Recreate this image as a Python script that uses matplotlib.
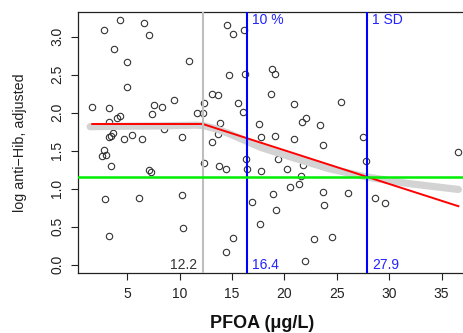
import numpy as np
import matplotlib
matplotlib.use("Agg")
import matplotlib.pyplot as plt

plt.rcParams['font.family'] = ['Liberation Sans', 'DejaVu Sans']

# PFOA (ug/L) and adjusted log anti-Hib
pfoa = [1.64, 2.79, 4.32, 3.72, 4.96, 4.93, 6.63, 7.04, 10.85, 7.57,
        8.35, 7.37, 9.47, 11.69, 12.24, 12.36, 3.26, 3.24, 4.06, 4.32,
        8.49, 10.21, 3.67, 3.42, 3.23, 4.65, 5.46, 6.42, 2.77, 2.58,
        2.93, 3.45, 7.04, 7.30, 12.33, 2.86, 6.08, 10.24, 3.29, 10.29,
        13.79, 14.44, 14.44, 15.10, 14.55, 15.10, 16.13, 14.67, 16.22, 18.77,
        19.06, 13.09, 13.65, 18.67, 15.53, 20.92, 16.03, 13.84, 17.54, 21.69,
        22.04, 23.41, 13.63, 13.07, 17.75, 19.07, 20.90, 23.71, 25.41, 27.53,
        27.77, 36.61, 16.35, 19.42, 21.77, 20.25, 17.80, 16.41, 21.58, 21.42,
        20.49, 18.89, 23.71, 23.78, 26.02, 16.89, 19.21, 17.62, 22.78, 24.57,
        21.95, 28.61, 29.58]
log_hib = [2.076, 3.092, 3.220, 2.830, 2.660, 2.340, 3.175, 3.017, 2.684, 2.096,
           2.068, 1.983, 2.167, 1.991, 1.991, 2.132, 2.063, 1.882, 1.925, 1.951,
           1.789, 1.680, 1.730, 1.695, 1.680, 1.659, 1.701, 1.658, 1.511, 1.432,
           1.437, 1.296, 1.243, 1.224, 1.336, 0.862, 0.875, 0.914, 0.378, 0.489,
           1.301, 1.261, 0.174, 0.358, 3.149, 3.036, 3.082, 2.500, 2.507, 2.568,
           2.503, 2.243, 2.228, 2.246, 2.124, 2.118, 2.004, 1.858, 1.854, 1.875,
           1.932, 1.832, 1.720, 1.612, 1.676, 1.691, 1.647, 1.572, 2.145, 1.675,
           1.358, 1.487, 1.392, 1.395, 1.308, 1.258, 1.229, 1.259, 1.167, 1.068,
           1.024, 0.925, 0.950, 0.789, 0.937, 0.825, 0.717, 0.542, 0.339, 0.362,
           0.053, 0.884, 0.813]

# smoothed curve
smooth_x = [1.45, 4.0, 8.0, 11.5, 12.2, 13.5, 14.6, 17.8, 21.0, 24.2, 27.8, 31.8, 36.6]
smooth_y = [1.815, 1.82, 1.825, 1.835, 1.83, 1.785, 1.73, 1.54, 1.40, 1.265, 1.155, 1.068, 0.99]

# segmented (hockey stick) fit
seg_x = [1.65, 12.2, 36.6]
seg_y = [1.85, 1.85, 0.77]

breakpoint = 12.2
pct10 = 16.4
one_sd = 27.9
ref_level = 1.155

W, H = 464, 333
fig = plt.figure(figsize=(W / 100, H / 100), dpi=100)
ax = fig.add_axes([78 / W, (H - 273.3) / H, (473 - 78) / W, 261.6 / H])

ax.plot(pfoa, log_hib, 'o', mfc='none', mec='#333333', mew=0.8, ms=4.6, zorder=2)
ax.plot(smooth_x, smooth_y, color='#d3d3d3', lw=5.2, solid_capstyle='round', zorder=3)
ax.plot(seg_x, seg_y, color='red', lw=1.4, zorder=4)

ax.axvline(breakpoint, color='#bebebe', lw=1.5, zorder=5)
ax.axvline(pct10, color='blue', lw=1.5, zorder=5)
ax.axvline(one_sd, color='blue', lw=1.5, zorder=5)
ax.axhline(ref_level, color='#00ee00', lw=1.8, zorder=6)

ax.text(breakpoint - 0.55, 0.0, '12.2', color='#333333', fontsize=10, ha='right', va='center')
ax.text(pct10 + 0.5, 0.0, '16.4', color='#2222ff', fontsize=10, ha='left', va='center')
ax.text(one_sd + 0.5, 0.0, '27.9', color='#2222ff', fontsize=10, ha='left', va='center')
ax.text(pct10 + 0.5, 3.22, '10 %', color='#2222ff', fontsize=10, ha='left', va='center')
ax.text(one_sd + 0.5, 3.22, '1 SD', color='#2222ff', fontsize=10, ha='left', va='center')

ax.set_xlim(0.29, 38.0)
ax.set_ylim(-0.112, 3.326)
ax.set_xticks([5, 10, 15, 20, 25, 30, 35])
ax.set_yticks([0.0, 0.5, 1.0, 1.5, 2.0, 2.5, 3.0])
ax.set_yticklabels(['0.0', '0.5', '1.0', '1.5', '2.0', '2.5', '3.0'], rotation=90, va='center')
ax.tick_params(axis='both', length=5, width=0.8, labelsize=10, colors='#222222', pad=5)
for s in ax.spines.values():
    s.set_linewidth(0.9)
    s.set_color('#222222')

fig.text(20 / W, 1 - 142.5 / H, 'log anti\u2212Hib, adjusted', rotation=90,
         ha='center', va='center', fontsize=10.3, color='#222222')
fig.text(262.5 / W, 1 - 323 / H, 'PFOA (\u03bcg/L)', ha='center', va='center',
         fontsize=13, fontweight='bold', color='#111111')

fig.savefig('out.png', dpi=100)
